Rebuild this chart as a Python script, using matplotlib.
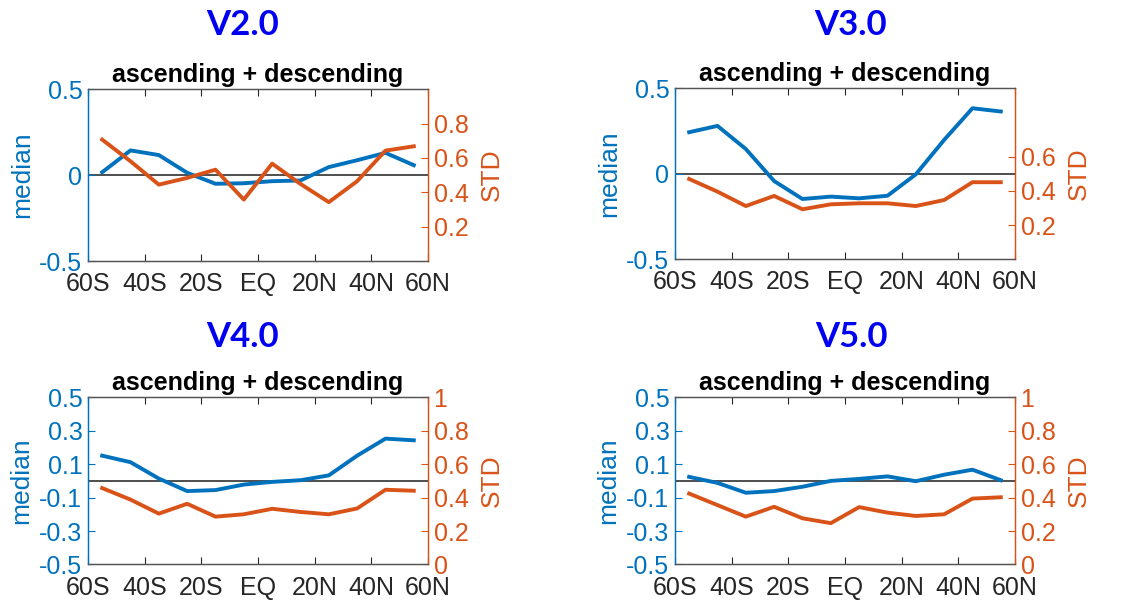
import matplotlib
matplotlib.use("Agg")
import matplotlib.pyplot as plt

# Latitude bin centres (10-degree bins, 60S..60N)
lat = [-55, -45, -35, -25, -15, -5, 5, 15, 25, 35, 45, 55]

versions = ["V2.0", "V3.0", "V4.0", "V5.0"]

median_v2 = [0.017, 0.144, 0.117, 0.014, -0.050, -0.047, -0.035, -0.031, 0.047, 0.087, 0.130, 0.058]
median_v3 = [0.242, 0.279, 0.144, -0.043, -0.148, -0.134, -0.144, -0.129, -0.004, 0.197, 0.382, 0.363]
median_v4 = [0.151, 0.112, 0.014, -0.061, -0.055, -0.022, -0.006, 0.004, 0.033, 0.151, 0.253, 0.243]
median_v5 = [0.024, -0.012, -0.071, -0.061, -0.035, 0.000, 0.012, 0.027, -0.002, 0.037, 0.067, 0.004]

std_v2 = [0.707, 0.581, 0.445, 0.484, 0.532, 0.358, 0.567, 0.449, 0.343, 0.465, 0.643, 0.668]
std_v3 = [0.469, 0.395, 0.311, 0.370, 0.292, 0.321, 0.327, 0.327, 0.311, 0.346, 0.450, 0.450]
std_v4 = [0.457, 0.388, 0.304, 0.363, 0.286, 0.300, 0.333, 0.314, 0.300, 0.335, 0.447, 0.441]
std_v5 = [0.424, 0.355, 0.286, 0.345, 0.276, 0.247, 0.343, 0.310, 0.290, 0.300, 0.394, 0.402]

medians = [median_v2, median_v3, median_v4, median_v5]
stds = [std_v2, std_v3, std_v4, std_v5]

x_ticks = [-60, -40, -20, 0, 20, 40, 60]
x_labels = ["60S", "40S", "20S", "EQ", "20N", "40N", "60N"]

left_ticks = [
    [-0.5, 0, 0.5],
    [-0.5, 0, 0.5],
    [-0.5, -0.3, -0.1, 0.1, 0.3, 0.5],
    [-0.5, -0.3, -0.1, 0.1, 0.3, 0.5],
]
left_labels = [
    ["-0.5", "0", "0.5"],
    ["-0.5", "0", "0.5"],
    ["-0.5", "-0.3", "-0.1", "0.1", "0.3", "0.5"],
    ["-0.5", "-0.3", "-0.1", "0.1", "0.3", "0.5"],
]
right_ticks = [
    [0.2, 0.4, 0.6, 0.8],
    [0.2, 0.4, 0.6],
    [0, 0.2, 0.4, 0.6, 0.8, 1],
    [0, 0.2, 0.4, 0.6, 0.8, 1],
]
right_labels = [
    ["0.2", "0.4", "0.6", "0.8"],
    ["0.2", "0.4", "0.6"],
    ["0", "0.2", "0.4", "0.6", "0.8", "1"],
    ["0", "0.2", "0.4", "0.6", "0.8", "1"],
]

BLUE = "#0072BD"
ORANGE = "#D95319"
DARK = "#262626"

plt.rcParams["font.family"] = ["Liberation Sans", "DejaVu Sans"]

fig = plt.figure(figsize=(11.31, 6.03), dpi=100)

# axes rectangles in figure fractions: left, bottom, width, height
positions = [
    (0.0778, 0.567, 0.3006, 0.285),
    (0.5968, 0.570, 0.3006, 0.284),
    (0.0778, 0.064, 0.3006, 0.277),
    (0.5968, 0.064, 0.3006, 0.277),
]
title_xy = [(243, 25), (851, 25), (243, 337), (851, 337)]

for i in range(4):
    ax = fig.add_axes(positions[i])
    ax2 = ax.twinx()

    ax.axhline(0, color="#404040", lw=1.3, zorder=1)
    ax.plot(lat, medians[i], color=BLUE, lw=2.8, zorder=3)
    ax2.plot(lat, stds[i], color=ORANGE, lw=2.8, zorder=3)

    ax.set_xlim(-60, 60)
    ax.set_ylim(-0.5, 0.5)
    ax2.set_ylim(0, 1)

    ax.set_xticks(x_ticks)
    ax.set_xticklabels(x_labels)
    ax.set_yticks(left_ticks[i])
    ax.set_yticklabels(left_labels[i])
    ax2.set_yticks(right_ticks[i])
    ax2.set_yticklabels(right_labels[i])

    ax.tick_params(axis="x", direction="in", length=5, width=0.8, colors=DARK,
                   labelsize=18, pad=8, top=True)
    ax.tick_params(axis="y", direction="in", length=5, width=0.8, colors=BLUE,
                   labelsize=18, pad=4)
    ax2.tick_params(axis="y", direction="in", length=5, width=0.8, colors=ORANGE,
                    labelsize=18, pad=4)

    ax.set_ylabel("median", color=BLUE, fontsize=19, labelpad=4)
    ax2.set_ylabel("STD", color=ORANGE, fontsize=19, labelpad=8)

    for a in (ax, ax2):
        a.spines["top"].set_color("#555555")
        a.spines["bottom"].set_color("#555555")
        a.spines["left"].set_color(BLUE)
        a.spines["right"].set_color(ORANGE)
        for s in a.spines.values():
            s.set_linewidth(0.9)

    ax.set_title("ascending + descending", fontsize=18, fontweight="bold",
                 color="black", pad=5)

    tx, ty = title_xy[i]
    fig.text(tx / 1131, 1 - ty / 603, versions[i], ha="center", va="center",
             fontsize=25, fontweight="bold", color="#0000F0",
             family=["Lato", "DejaVu Sans"])

fig.savefig("out.png", dpi=100)
